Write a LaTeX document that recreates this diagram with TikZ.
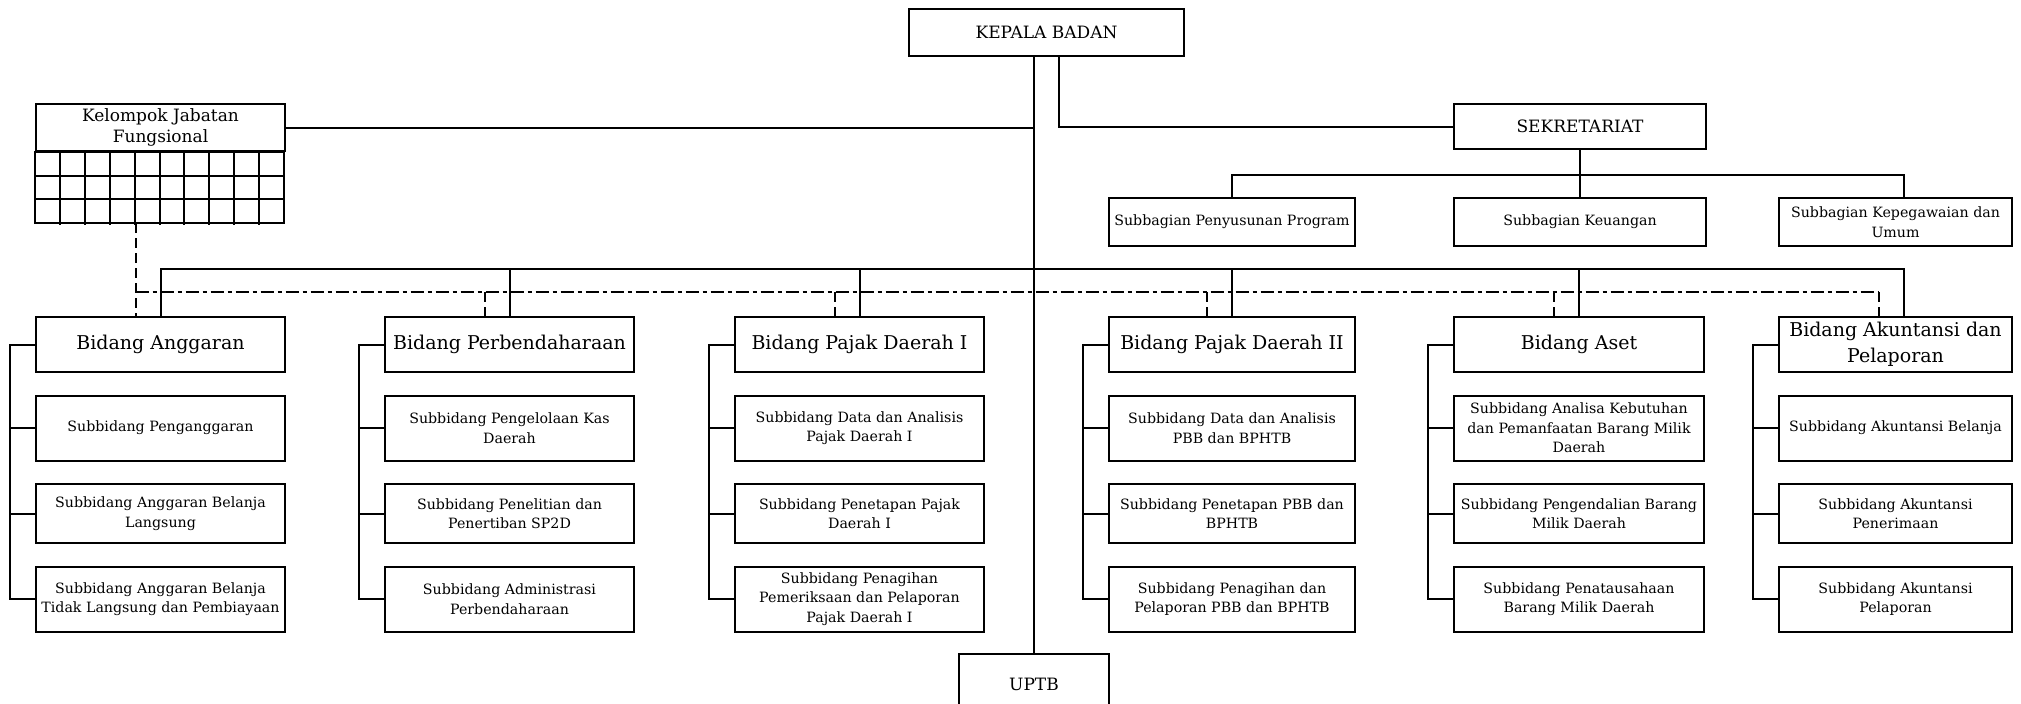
\documentclass[tikz,border=0pt]{standalone}
\usepackage{fontspec}
\setmainfont{DejaVu Serif}

\tikzset{
	kotak/.style = {draw, line width = 2pt, align = center, inner sep = 0pt},
	pimpinan/.style = {kotak, font = \fontsize{17}{21}\selectfont},
	bidang/.style = {kotak, minimum height = 55pt, font = \fontsize{19}{26}\selectfont},
	subbid/.style = {kotak, font = \fontsize{14.2}{19.5}\selectfont},
	garis/.style = {line width = 2pt},
	putus/.style = {line width = 2pt, dash pattern = on 10pt off 5pt},
	titikgaris/.style = {line width = 2pt, dash pattern = on 13pt off 4pt on 4pt off 4pt},
}

\begin{document}
\begin{tikzpicture}[x = 1pt, y = -1pt]
	%	halaman
	\useasboundingbox[fill = white] (0, 0) rectangle (2021, 704);
	
	%	pimpinan
	\node[pimpinan, minimum width = 275pt, minimum height = 47pt] (kep) at (1046.5, 32.5) {KEPALA BADAN};
	\node[pimpinan, minimum width = 249pt, minimum height = 47pt] (kel) at (160.5, 127.5) {Kelompok Jabatan\\Fungsional};
	\node[pimpinan, minimum width = 252pt, minimum height = 45pt] (sek) at (1580, 126.5) {SEKRETARIAT};
	\node[pimpinan, minimum width = 150pt, minimum height = 60pt] (uptb) at (1034, 684) {UPTB};
	
	%	kotak-kotak jabatan fungsional
	\draw[garis] (kel.south west) rectangle ++(249, 71);
	\foreach \i in {1, ..., 9}
		\draw[garis] ([xshift = \i*24.9pt]kel.south west) -- ++(0, 73);
	\foreach \j in {1, 2}
		\draw[garis] ([yshift = -\j*23.7pt]kel.south west) -- ++(249, 0);
	
	%	subbagian
	\node[subbid, minimum width = 246pt, minimum height = 48pt] (sb1) at (1232, 222) {Subbagian Penyusunan Program};
	\node[subbid, minimum width = 252pt, minimum height = 48pt] (sb2) at (1580, 222) {Subbagian Keuangan};
	\node[subbid, minimum width = 233pt, minimum height = 48pt] (sb3) at (1895.5, 222) {Subbagian Kepegawaian dan\\Umum};
	
	%	bidang
	\node[bidang, minimum width = 249pt] (ang) at (160.5, 344.5) {Bidang Anggaran};
	\node[bidang, minimum width = 249pt] (per) at (509.5, 344.5) {Bidang Perbendaharaan};
	\node[bidang, minimum width = 249pt] (pj1) at (859.5, 344.5) {Bidang Pajak Daerah I};
	\node[bidang, minimum width = 246pt] (pj2) at (1232, 344.5) {Bidang Pajak Daerah II};
	\node[bidang, minimum width = 250pt] (aset) at (1579, 344.5) {Bidang Aset};
	\node[bidang, minimum width = 233pt] (aku) at (1895.5, 344.5) {Bidang Akuntansi dan\\Pelaporan};
	
	%	subbidang
	\node[subbid, minimum width = 249pt, minimum height = 65pt] (ang1) at (160.5, 428) {Subbidang Penganggaran};
	\node[subbid, minimum width = 249pt, minimum height = 59pt] (ang2) at (160.5, 513.5) {Subbidang Anggaran Belanja\\Langsung};
	\node[subbid, minimum width = 249pt, minimum height = 65pt] (ang3) at (160.5, 599) {Subbidang Anggaran Belanja\\Tidak Langsung dan Pembiayaan};
	
	\node[subbid, minimum width = 249pt, minimum height = 65pt] (per1) at (509.5, 428) {Subbidang Pengelolaan Kas\\Daerah};
	\node[subbid, minimum width = 249pt, minimum height = 59pt] (per2) at (509.5, 513.5) {Subbidang Penelitian dan\\Penertiban SP2D};
	\node[subbid, minimum width = 249pt, minimum height = 65pt] (per3) at (509.5, 599) {Subbidang Administrasi\\Perbendaharaan};
	
	\node[subbid, minimum width = 249pt, minimum height = 65pt] (pj11) at (859.5, 428) {Subbidang Data dan Analisis\\Pajak Daerah I};
	\node[subbid, minimum width = 249pt, minimum height = 59pt] (pj12) at (859.5, 513.5) {Subbidang Penetapan Pajak\\Daerah I};
	\node[subbid, minimum width = 249pt, minimum height = 65pt] (pj13) at (859.5, 599) {Subbidang Penagihan\\Pemeriksaan dan Pelaporan\\Pajak Daerah I};
	
	\node[subbid, minimum width = 246pt, minimum height = 65pt] (pj21) at (1232, 428) {Subbidang Data dan Analisis\\PBB dan BPHTB};
	\node[subbid, minimum width = 246pt, minimum height = 59pt] (pj22) at (1232, 513.5) {Subbidang Penetapan PBB dan\\BPHTB};
	\node[subbid, minimum width = 246pt, minimum height = 65pt] (pj23) at (1232, 599) {Subbidang Penagihan dan\\Pelaporan PBB dan BPHTB};
	
	\node[subbid, minimum width = 250pt, minimum height = 65pt] (aset1) at (1579, 428) {Subbidang Analisa Kebutuhan\\dan Pemanfaatan Barang Milik\\Daerah};
	\node[subbid, minimum width = 250pt, minimum height = 59pt] (aset2) at (1579, 513.5) {Subbidang Pengendalian Barang\\Milik Daerah};
	\node[subbid, minimum width = 250pt, minimum height = 65pt] (aset3) at (1579, 599) {Subbidang Penatausahaan\\Barang Milik Daerah};
	
	\node[subbid, minimum width = 233pt, minimum height = 65pt] (aku1) at (1895.5, 428) {Subbidang Akuntansi Belanja};
	\node[subbid, minimum width = 233pt, minimum height = 59pt] (aku2) at (1895.5, 513.5) {Subbidang Akuntansi\\Penerimaan};
	\node[subbid, minimum width = 233pt, minimum height = 65pt] (aku3) at (1895.5, 599) {Subbidang Akuntansi\\Pelaporan};
	
	%	garis komando
	\coordinate (bus1) at (0, 175);
	\coordinate (bus2) at (0, 269);
	\coordinate (bus3) at (0, 292);
	\coordinate (kelbawah) at ([yshift = -71pt]kel.south);
	
	\draw[garis] (uptb.north |- kep.south) -- (uptb.north);
	\draw[garis] ([xshift = 12pt]kep.south) |- (sek.west);
	\draw[garis] (kel.east) -- (kel.east -| uptb.north);
	
	\draw[garis] (sek.south) -- (sb2.north);
	\draw[garis] (sb1.north) |- ([xshift = 8.5pt]sb3.north |- bus1) -- ([xshift = 8.5pt]sb3.north);
	
	\draw[garis] (ang.north) |- ([xshift = 8.5pt]aku.north |- bus2) -- ([xshift = 8.5pt]aku.north);
	\foreach \n in {per, pj1, pj2, aset}
		\draw[garis] (\n.north) -- (\n.north |- bus2);
	
	%	garis koordinasi
	\foreach \n/\d in {ang/-25, per/-25, pj1/-25, pj2/-25, aset/-25, aku/-16.5}
		\coordinate (\n d) at ([xshift = \d pt]\n.north);
	\draw[putus] (angd |- kelbawah) -- (angd);
	\draw[titikgaris] (angd |- bus3) -- (akud |- bus3);
	\foreach \n in {per, pj1, pj2, aset, aku}
		\draw[putus] (\n d |- bus3) -- (\n d);
	
	%	subbidang ke bidang
	\foreach \n in {ang, per, pj1, pj2, aset, aku} {
		\draw[garis] (\n.west) -- ++(-25, 0) |- (\n 3.west);
		\draw[garis] (\n 1.west) -- ++(-25, 0);
		\draw[garis] (\n 2.west) -- ++(-25, 0);
	}
\end{tikzpicture}
\end{document}
